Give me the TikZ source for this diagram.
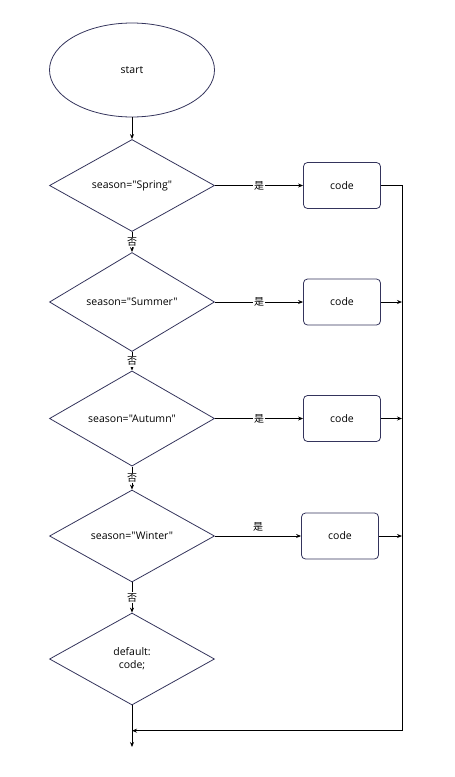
\documentclass[tikz,border=0pt]{standalone}
\usepackage{fontspec}
\setmainfont{Open Sans}[Ligatures=TeXOff]
\newfontfamily\cjk{Noto Sans CJK SC}
\usetikzlibrary{shapes.geometric,arrows.meta}
\definecolor{shapeline}{RGB}{52,52,92}
\begin{document}
\begin{tikzpicture}[x=1pt,y=-1pt,
    every node/.style={font=\fontsize{10.5}{13}\selectfont},
    startnode/.style={ellipse,draw=shapeline,line width=0.8pt,minimum width=165pt,minimum height=94pt},
    decision/.style={diamond,draw=shapeline,line width=0.8pt,minimum width=165pt,minimum height=92pt,inner sep=0pt},
    codebox/.style={rectangle,rounded corners=4pt,draw=shapeline,line width=0.8pt,minimum width=77pt,minimum height=46pt},
    flow/.style={-{Stealth[length=5pt,width=4pt]},line width=0.8pt},
    tag/.style={fill=white,inner sep=1pt,font=\cjk\fontsize{10}{12}\selectfont}]
    \useasboundingbox (0,0) rectangle (455,777);
    \node[startnode] (start) at (132,70) {start};
    \node[decision] (spring) at (132,185.5) {season="Spring"};
    \node[decision] (summer) at (132,302) {season="Summer"};
    \node[decision] (autumn) at (132,418.5) {season="Autumn"};
    \node[decision] (winter) at (132,536) {season="Winter"};
    \node[decision,align=center] (default) at (132,659) {default:\\code;};
    \node[codebox] (code1) at (342,185.5) {code};
    \node[codebox] (code2) at (342,302) {code};
    \node[codebox] (code3) at (342,418.5) {code};
    \node[codebox] (code4) at (340,536) {code};
    \coordinate (corner) at (402,185.5);
    \coordinate (bottom) at (402,730.7);
    \coordinate (join) at (132,730.7);
    \coordinate (end) at (132,747);
    \draw[flow] (start) -- (spring);
    \draw[flow] (spring) -- node[tag] {否} (summer);
    \draw[flow] (summer) -- node[tag] {否} (autumn);
    \draw[flow] (autumn) -- node[tag] {否} (winter);
    \draw[flow] (winter) -- node[tag] {否} (default);
    \draw[flow] (spring) -- node[tag] {是} (code1);
    \draw[flow] (summer) -- node[tag] {是} (code2);
    \draw[flow] (autumn) -- node[tag] {是} (code3);
    \draw[flow] (winter) -- node[tag,fill=none,above=3pt] {是} (code4);
    \draw[flow] (code1) -- (corner) -- (bottom) -- (join);
    \draw[flow] (code2) -- (code2 -| corner);
    \draw[flow] (code3) -- (code3 -| corner);
    \draw[flow] (code4) -- (code4 -| corner);
    \draw[flow] (default) -- (end);
\end{tikzpicture}
\end{document}
